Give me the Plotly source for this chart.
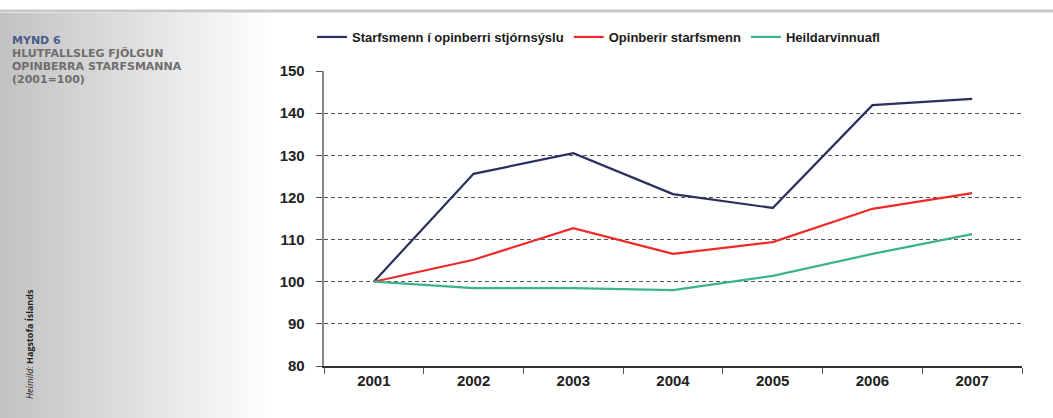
import plotly.graph_objects as go

years = ["2001", "2002", "2003", "2004", "2005", "2006", "2007"]
stjornsysla = [100, 125.6, 130.5, 120.8, 117.5, 141.9, 143.4]
opinberir = [100, 105.2, 112.7, 106.6, 109.4, 117.3, 121.0]
heild = [100, 98.5, 98.5, 98.0, 101.4, 106.6, 111.3]

series = [
    ("Starfsmenn í opinberri stjórnsýslu", stjornsysla, "#2b2f5e"),
    ("Opinberir starfsmenn", opinberir, "#ee2a2a"),
    ("Heildarvinnuafl", heild, "#3cb38a"),
]

title_lines = ["HLUTFALLSLEG FJÖLGUN", "OPINBERRA STARFSMANNA", "(2001=100)"]

W, H = 1053, 418
L, R, T, B = 324, 31, 71, 52
PW, PH = W - L - R, H - T - B


def px_x(x):
    return (x - L) / PW


def px_y(y):
    return (H - B - y) / PH


fig = go.Figure()
for name, vals, col in series:
    fig.add_trace(go.Scatter(x=years, y=vals, name=name, mode="lines",
                             line=dict(color=col, width=2.2)))

# grey gradient panel on the left, built from thin strips
shapes = []
n = 60
for i in range(n):
    t = i / (n - 1)
    v = int(194 + (255 - 194) * t)
    shapes.append(dict(type="rect", xref="paper", yref="paper", layer="below",
                       x0=px_x(i * 270 / n), x1=px_x((i + 1) * 270 / n + 0.5),
                       y0=px_y(H), y1=px_y(13),
                       fillcolor=f"rgb({v},{v},{v})", line=dict(width=0)))
# top grey rule
shapes.append(dict(type="line", xref="paper", yref="paper",
                   x0=px_x(0), x1=px_x(W), y0=px_y(11), y1=px_y(11),
                   line=dict(color="#c8c8c8", width=3)))

title_font = dict(family="DejaVu Sans, sans-serif", size=11, color="#6e6e6e")
annotations = [
    dict(xref="paper", yref="paper", x=px_x(10), y=px_y(40), xanchor="left", yanchor="middle",
         text="<b>MYND 6</b>", showarrow=False,
         font=dict(family="DejaVu Sans, sans-serif", size=11, color="#4b5b8c")),
    dict(xref="paper", yref="paper", x=px_x(29), y=px_y(344), xanchor="center", yanchor="middle",
         text="<i>Heimild:</i> <b>Hagstofa Íslands</b>", textangle=-90, showarrow=False,
         font=dict(family="Open Sans, sans-serif", size=9, color="#222")),
]
for k, line in enumerate(title_lines):
    annotations.append(dict(xref="paper", yref="paper", x=px_x(10), y=px_y(53 + 13 * k),
                            xanchor="left", yanchor="middle", text=f"<b>{line}</b>",
                            showarrow=False, font=title_font))

fig.update_layout(
    width=W, height=H,
    margin=dict(l=L, r=R, t=T, b=B, autoexpand=False),
    paper_bgcolor="white", plot_bgcolor="rgba(0,0,0,0)",
    shapes=shapes,
    showlegend=True,
    legend=dict(orientation="h", x=px_x(312), xanchor="left", y=px_y(37),
                yanchor="middle",
                font=dict(family="Liberation Sans Narrow, Arial Narrow, Liberation Sans, sans-serif",
                          size=13, color="#1a1a1a", weight="bold"),
                itemwidth=30, bgcolor="rgba(0,0,0,0)"),
    font=dict(family="Liberation Sans, Arial, sans-serif", color="#222"),
    annotations=annotations,
)

fig.update_xaxes(type="category", automargin=False, showgrid=False, showline=True,
                 linecolor="#333", linewidth=1.5,
                 ticks="outside", tickson="boundaries", ticklen=6, tickcolor="#555",
                 tickfont=dict(size=15, color="#222", family="Liberation Sans, Arial, sans-serif"),
                 tickprefix="<b>", ticksuffix="</b>", range=[-0.5, 6.5])
fig.update_yaxes(range=[80, 150], dtick=10, automargin=False, showgrid=True, gridcolor="#555",
                 gridwidth=1, griddash="4px,3px", showline=True, linecolor="#888", linewidth=2,
                 ticks="outside", ticklen=6, tickcolor="#555", zeroline=False,
                 tickfont=dict(size=15, color="#222", family="Liberation Sans, Arial, sans-serif"),
                 tickprefix="<b>", ticksuffix="</b>  ")

fig.write_html("out.html", config={"displayModeBar": False},
               post_script="document.body.style.margin='0';")
